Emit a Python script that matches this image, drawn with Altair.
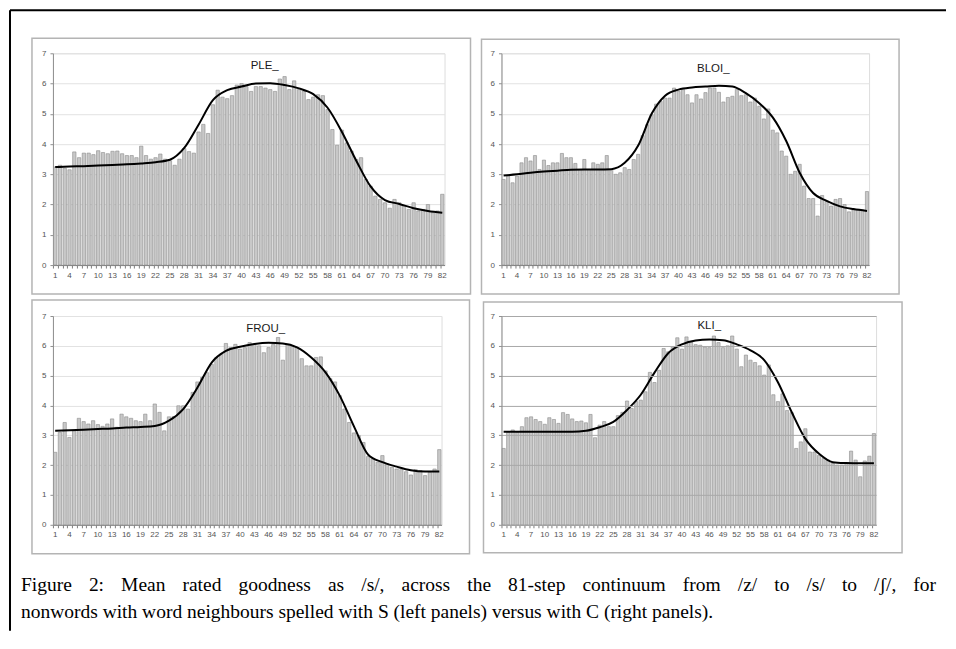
import altair as alt
import pandas as pd

# ---------------- data ----------------
steps = list(range(1, 83))
line_steps = [1, 4, 7, 10, 13, 16, 19, 22, 25, 28, 31, 34, 37, 40, 43, 46, 49, 52, 55, 58,
              61, 64, 67, 70, 73, 76, 79, 82]

ple_bars = [3.24, 3.3, 3.2, 3.15, 3.74, 3.55, 3.7, 3.7, 3.65, 3.78,
            3.72, 3.68, 3.76, 3.77, 3.68, 3.62, 3.62, 3.55, 3.93, 3.62,
            3.5, 3.55, 3.67, 3.5, 3.45, 3.3, 3.5, 3.85, 3.75, 3.7,
            4.4, 4.65, 4.35, 5.3, 5.78, 5.55, 5.5, 5.6, 5.95, 6.0,
            5.9, 5.74, 5.9, 5.9, 5.85, 5.8, 5.74, 6.15, 6.23, 5.8,
            6.09, 5.8, 5.74, 5.47, 5.55, 5.63, 5.6, 5.14, 4.48, 3.96,
            4.46, 4.04, 3.77, 3.49, 3.55, 2.83, 2.61, 2.28, 2.17, 2.06,
            1.88, 2.17, 2.06, 1.95, 1.84, 2.06, 1.79, 1.84, 2.0, 1.73,
            1.79, 2.34]
ple_line = [3.24, 3.26, 3.27, 3.29, 3.31, 3.33, 3.36, 3.4, 3.48, 3.87,
            4.64, 5.45, 5.78, 5.9, 6.0, 6.01, 5.95, 5.84, 5.65, 5.2,
            4.4, 3.45, 2.6, 2.15, 2.02, 1.88, 1.79, 1.73]

bloi_bars = [2.83, 2.94, 2.72, 2.94, 3.38, 3.55, 3.44, 3.62, 3.16, 3.47,
             3.29, 3.38, 3.38, 3.69, 3.55, 3.55, 3.36, 3.16, 3.49, 3.16,
             3.38, 3.33, 3.38, 3.62, 3.16, 3.0, 3.05, 3.22, 3.16, 3.49,
             3.66, 4.28, 4.64, 4.97, 5.32, 5.41, 5.52, 5.52, 5.85, 5.74,
             5.8, 5.63, 5.36, 5.63, 5.49, 5.7, 5.85, 5.85, 5.71, 5.39,
             5.54, 5.58, 5.8, 5.6, 5.63, 5.39, 5.52, 5.25, 4.83, 5.16,
             4.46, 4.37, 3.77, 3.6, 3.0, 3.1, 3.33, 2.61, 2.2, 2.2,
             1.62, 2.3, 2.12, 1.95, 2.17, 2.2, 2.0, 1.76, 1.82, 1.82,
             1.82, 2.43]
bloi_line = [2.96, 3.0, 3.05, 3.09, 3.12, 3.15, 3.16, 3.16, 3.17, 3.38,
             3.95, 5.0, 5.6, 5.8, 5.87, 5.9, 5.93, 5.9, 5.68, 5.35,
             4.88, 4.1, 3.05, 2.38, 2.12, 1.94, 1.85, 1.79]

frou_bars = [2.43, 3.1, 3.43, 2.93, 3.15, 3.57, 3.46, 3.38, 3.49, 3.36,
             3.3, 3.38, 3.55, 3.27, 3.71, 3.62, 3.57, 3.49, 3.46, 3.71,
             3.49, 4.05, 3.77, 3.15, 3.62, 3.63, 3.99, 3.99, 3.88, 4.44,
             4.79, 4.94, 5.1, 5.38, 5.61, 5.72, 6.08, 5.94, 6.05, 5.89,
             5.94, 6.11, 6.05, 6.0, 5.77, 5.94, 6.05, 6.28, 5.52, 6.05,
             6.0, 5.94, 5.57, 5.33, 5.33, 5.61, 5.63, 5.16, 4.9, 4.79,
             4.33, 3.88, 3.43, 3.08, 2.99, 2.76, 2.29, 2.21, 2.1, 2.32,
             2.04, 1.93, 1.87, 1.85, 1.78, 1.67, 1.85, 1.82, 1.65, 1.76,
             1.87, 2.52]
frou_line = [3.15, 3.17, 3.19, 3.21, 3.23, 3.26, 3.28, 3.31, 3.49, 3.88,
             4.6, 5.44, 5.83, 5.97, 6.06, 6.1, 6.08, 5.95, 5.61, 5.11,
             4.33, 3.3, 2.35, 2.1, 1.95, 1.83, 1.79, 1.79]

kli_bars = [2.56, 3.1, 3.18, 3.1, 3.29, 3.59, 3.62, 3.53, 3.46, 3.37,
            3.59, 3.53, 3.4, 3.76, 3.7, 3.55, 3.46, 3.48, 3.42, 3.7,
            2.92, 3.34, 3.46, 3.29, 3.29, 3.66, 3.77, 4.15, 3.9, 4.13,
            4.18, 4.46, 5.11, 4.77, 5.18, 5.91, 5.8, 5.96, 6.27, 5.89,
            6.3, 6.13, 6.04, 6.02, 5.96, 5.94, 6.33, 6.11, 5.94, 6.0,
            6.33, 5.89, 5.3, 5.69, 5.52, 5.44, 5.33, 5.02, 5.36, 4.36,
            4.13, 4.39, 3.83, 3.76, 2.56, 2.78, 3.22, 2.44, 2.44, 2.33,
            2.22, 2.17, 2.06, 2.0, 2.0, 2.06, 2.47, 2.17, 1.61, 2.14,
            2.3, 3.06]
kli_line = [3.12, 3.12, 3.12, 3.12, 3.12, 3.12, 3.15, 3.27, 3.45, 3.85,
            4.36, 5.1, 5.75, 6.05, 6.18, 6.21, 6.19, 6.05, 5.85, 5.52,
            4.78, 3.78, 2.88, 2.38, 2.1, 2.07, 2.06, 2.06]

y_ticks = [0, 1, 2, 3, 4, 5, 6, 7]
titles = ["PLE_", "BLOI_", "FROU_", "KLI_"]
caption_line1 = ("Figure 2: Mean rated goodness as /s/, across the 81-step continuum "
                 "from /z/ to /s/ to /\u0283/, for")
caption_line2 = ("nonwords with word neighbours spelled with S (left panels) versus "
                 "with C (right panels).")

# ---------------- styling / layout ----------------
SANS = "Liberation Sans"
SERIF = "Liberation Serif"
CAP_SIZE = 19.5
CAP_LEFT, CAP_RIGHT = -32, 884

# Times/Liberation Serif advance widths (1/1000 em) for justifying line 1
TIMES_W = {
    "a": 444, "b": 500, "c": 444, "d": 500, "e": 444, "f": 333, "g": 500, "h": 500,
    "i": 278, "j": 278, "k": 500, "l": 278, "m": 778, "n": 500, "o": 500, "p": 500,
    "q": 500, "r": 333, "s": 389, "t": 278, "u": 500, "v": 500, "w": 722, "x": 500,
    "y": 500, "z": 444, "F": 556, "M": 889, "S": 556, "C": 667, ":": 278, "/": 278,
    ",": 250, "-": 333, "(": 333, ")": 333, ".": 250, "\u0283": 333,
}
for d in "0123456789":
    TIMES_W[d] = 500


def text_w(s, size):
    return sum(TIMES_W.get(ch, 500) for ch in s) * size / 1000.0


one = pd.DataFrame({"k": [0]})


def panel(title, bars, line, w, h, title_pos, box, grid_color, grid_top, extras=()):
    bar_df = pd.DataFrame({"step": steps, "value": bars})
    line_df = pd.DataFrame({"step": line_steps, "value": line})
    xs = alt.Scale(domain=steps, paddingInner=0.3, paddingOuter=0.12)
    ys = alt.Scale(domain=[0, 7], nice=False)
    xaxis = alt.Axis(
        title=None, labelAngle=0, labelFontSize=8, labelColor="#555555", labelFont=SANS,
        labelExpr="(datum.value - 1) % 3 == 0 ? datum.label : ''",
        labelOverlap=False, labelPadding=3, tickSize=3, tickColor="#808080",
        domainColor="#808080", bandPosition=0, grid=False, labelFlush=False,
    )
    yaxis = alt.Axis(
        title=None, values=y_ticks, tickCount=20, format="d", labelOverlap=False,
        labelFontSize=8, labelColor="#555555", labelFont=SANS,
        labelPadding=4, tickSize=3, tickColor="#909090", domainColor="#909090",
        gridColor=grid_color, gridWidth=1, zindex=1 if grid_top else 0,
    )
    bars_l = alt.Chart(bar_df).mark_bar(
        fill="#c8c8c8", stroke="#8c8c8c", strokeWidth=0.6
    ).encode(
        x=alt.X("step:O", scale=xs, axis=xaxis),
        y=alt.Y("value:Q", scale=ys, axis=yaxis),
    )
    line_l = alt.Chart(line_df).mark_line(
        color="#000000", strokeWidth=2, interpolate="monotone"
    ).encode(
        x=alt.X("step:O", scale=xs, axis=xaxis),
        y=alt.Y("value:Q", scale=ys, axis=yaxis),
    )
    title_l = alt.Chart(one).mark_text(
        text=title, font=SANS, fontSize=11.5, color="#1a1a1a",
        align="center", baseline="middle",
    ).encode(x=alt.value(title_pos[0]), y=alt.value(title_pos[1]))
    box_l = alt.Chart(one).mark_rect(
        fillOpacity=0, stroke="#b4b4b4", strokeWidth=1.5
    ).encode(
        x=alt.value(box[0]), x2=alt.value(box[1]),
        y=alt.value(box[2]), y2=alt.value(box[3]),
    )
    return alt.layer(box_l, bars_l, line_l, title_l, *extras).properties(width=w, height=h)


# figure frame (top and left black rules) and caption, placed relative to first panel
frame_top = alt.Chart(one).mark_rule(color="#000000", strokeWidth=2).encode(
    x=alt.value(-43), x2=alt.value(894), y=alt.value(-43))
frame_left = alt.Chart(one).mark_rule(color="#000000", strokeWidth=2).encode(
    x=alt.value(-43), y=alt.value(-43), y2=alt.value(578))

words1 = caption_line1.split(" ")
widths1 = [text_w(wd, CAP_SIZE) for wd in words1]
gap1 = (CAP_RIGHT - CAP_LEFT - sum(widths1)) / (len(words1) - 1)
xpos1, cur = [], CAP_LEFT
for wv in widths1:
    xpos1.append(cur)
    cur += wv + gap1
cap1_df = pd.DataFrame({"word": words1, "px": xpos1})
cap1 = alt.Chart(cap1_df).mark_text(
    font=SERIF, fontSize=CAP_SIZE, color="#000000", align="left", baseline="alphabetic"
).encode(x=alt.X("px:Q", scale=None), y=alt.value(538), text="word:N")
cap2 = alt.Chart(one).mark_text(
    text=caption_line2, font=SERIF, fontSize=CAP_SIZE, color="#000000",
    align="left", baseline="alphabetic",
).encode(x=alt.value(CAP_LEFT), y=alt.value(565))

tl = panel(titles[0], ple_bars, ple_line, 392, 212, (212, 13), (-21, 418, -15, 241),
           "#e2e2e2", False, extras=(frame_top, frame_left, cap1, cap2))
tr = panel(titles[1], bloi_bars, bloi_line, 368, 212, (212, 16), (-20, 398, -14, 241),
           "#e2e2e2", False)
bl = panel(titles[2], frou_bars, frou_line, 389, 209, (213, 13), (-21, 417, -16, 238),
           "#e2e2e2", False)
br = panel(titles[3], kli_bars, kli_line, 375, 209, (208, 10), (-18, 401, -14, 237),
           "#a8a8a8", True)

chart = alt.concat(
    tl, tr, bl, br, columns=2, bounds="flush",
    spacing=alt.RowColnumber(row=51, column=57), padding=0,
).configure_view(stroke="#c8c8c8", strokeWidth=1).configure(background="white")

chart.save("out.html", embed_options={"renderer": "svg", "actions": False})
